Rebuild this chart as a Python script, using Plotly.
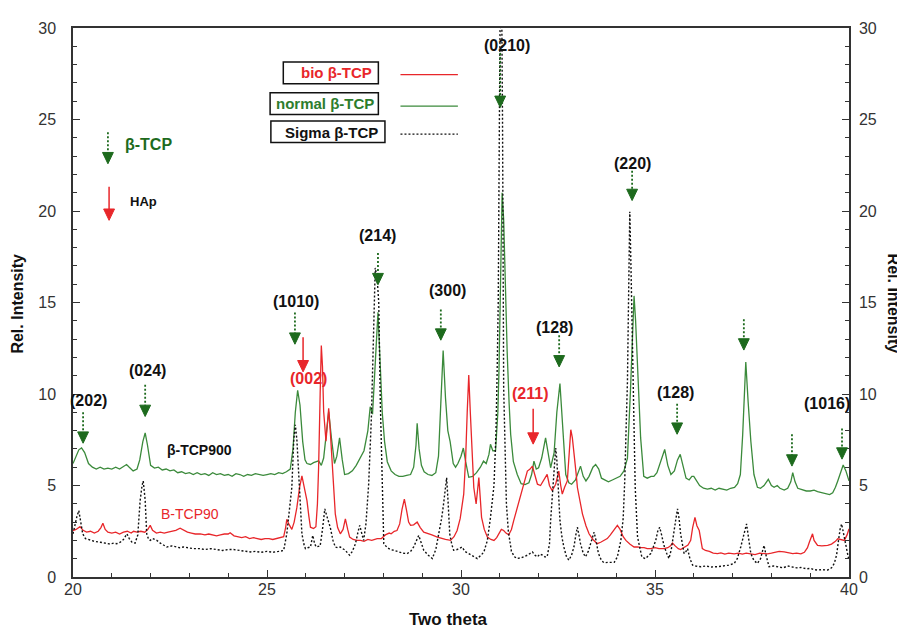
import plotly.graph_objects as go

# ---------------- data ----------------
normal_x = [20.00,20.08,20.15,20.22,20.30,20.40,20.50,20.60,20.70,20.80,20.90,21.00,21.10,21.20,21.30,21.38,21.45,21.55,21.65,21.72,21.80,21.86,21.92,22.00,22.10,22.20,22.30,22.40,22.50,22.60,22.70,22.80,22.90,23.00,23.10,23.20,23.30,23.40,23.50,23.60,23.70,23.80,23.90,24.00,24.10,24.20,24.30,24.40,24.50,24.60,24.70,24.80,24.90,25.00,25.10,25.20,25.30,25.40,25.50,25.60,25.67,25.73,25.79,25.85,25.92,25.98,26.03,26.12,26.20,26.33,26.40,26.46,26.52,26.59,26.66,26.74,26.80,26.87,26.94,27.00,27.10,27.20,27.30,27.40,27.50,27.60,27.66,27.72,27.78,27.86,27.92,27.97,28.03,28.10,28.20,28.30,28.40,28.50,28.60,28.70,28.78,28.84,28.87,28.92,28.98,29.05,29.15,29.25,29.35,29.42,29.48,29.54,29.60,29.66,29.72,29.80,29.86,29.92,30.00,30.06,30.12,30.20,30.30,30.40,30.50,30.58,30.65,30.72,30.76,30.82,30.89,30.95,30.98,31.02,31.06,31.10,31.15,31.19,31.24,31.28,31.35,31.45,31.55,31.65,31.75,31.82,31.88,31.94,32.00,32.08,32.18,32.25,32.31,32.40,32.47,32.55,32.62,32.70,32.78,32.85,32.95,33.03,33.08,33.15,33.22,33.30,33.40,33.47,33.55,33.62,33.70,33.80,33.90,34.00,34.10,34.20,34.29,34.37,34.46,34.50,34.54,34.63,34.71,34.80,34.90,34.97,35.05,35.15,35.25,35.33,35.41,35.50,35.58,35.65,35.72,35.80,35.88,35.95,36.00,36.08,36.15,36.25,36.35,36.45,36.55,36.65,36.75,36.85,36.95,37.05,37.13,37.20,37.26,37.32,37.34,37.40,37.47,37.55,37.64,37.72,37.81,37.92,38.00,38.07,38.15,38.22,38.33,38.42,38.50,38.55,38.61,38.68,38.80,38.90,39.00,39.10,39.19,39.30,39.40,39.50,39.58,39.65,39.71,39.78,39.85,39.92,40.00]
normal_y = [6.2,6.6,6.95,7.05,6.8,6.2,6.0,5.9,6.0,5.9,5.95,5.9,6.0,5.9,6.05,6.15,6.0,5.8,5.9,6.4,7.4,7.87,7.2,6.1,5.95,6.0,5.85,5.9,5.8,5.85,5.7,5.75,5.65,5.7,5.6,5.7,5.6,5.65,5.55,5.7,5.6,5.65,5.55,5.6,5.5,5.65,5.6,5.5,5.6,5.55,5.65,5.6,5.55,5.6,5.65,5.6,5.7,5.65,5.75,5.9,7.0,9.0,10.2,9.4,7.4,6.4,6.2,6.15,6.25,6.35,6.1,6.5,7.8,9.04,7.6,6.2,6.6,7.6,6.4,5.6,5.65,5.8,6.1,6.5,6.9,8.0,9.3,8.9,11.0,14.46,11.5,9.0,7.4,6.3,5.8,5.6,5.5,5.5,5.55,5.6,6.0,7.2,8.4,7.0,6.1,5.75,5.6,5.55,5.7,6.6,9.5,12.38,9.8,8.0,7.4,6.2,6.0,6.2,6.6,7.05,6.3,5.45,5.5,5.7,6.0,6.33,6.2,6.7,7.25,6.9,6.9,9.0,11.4,17.0,21.0,19.5,15.0,12.3,9.5,7.8,6.3,5.6,5.1,5.05,5.15,5.6,6.33,5.9,5.97,6.5,7.6,6.6,5.97,6.8,9.0,10.57,8.5,5.6,5.15,5.07,5.3,5.8,6.06,5.5,5.25,5.5,6.0,6.15,5.9,5.4,5.3,5.2,5.3,5.4,5.5,5.8,6.5,10.3,15.36,14.0,12.1,7.6,5.5,5.4,5.5,5.5,5.7,6.3,6.97,6.1,5.6,5.8,6.4,6.7,6.1,5.4,5.3,5.5,5.5,5.2,5.0,4.85,4.8,4.85,4.75,4.85,4.8,4.75,4.85,4.9,5.1,5.6,7.78,11.0,11.75,9.58,7.42,5.6,4.9,4.85,5.0,5.34,5.0,4.9,5.0,4.85,4.75,4.85,5.2,5.7,5.2,4.85,4.75,4.7,4.7,4.75,4.67,4.6,4.55,4.5,4.6,4.9,5.25,5.7,6.12,5.8,5.25]

bio_x = [20.00,20.08,20.18,20.26,20.35,20.45,20.55,20.65,20.72,20.77,20.83,20.90,21.00,21.10,21.20,21.30,21.40,21.50,21.56,21.65,21.75,21.85,21.93,21.99,22.05,22.15,22.25,22.35,22.45,22.55,22.65,22.76,22.85,22.95,23.05,23.15,23.28,23.40,23.50,23.60,23.70,23.80,23.90,24.00,24.05,24.15,24.25,24.35,24.45,24.55,24.65,24.75,24.85,24.95,25.05,25.15,25.25,25.35,25.43,25.48,25.51,25.56,25.64,25.70,25.77,25.84,25.90,25.96,26.03,26.08,26.12,26.20,26.26,26.30,26.33,26.37,26.40,26.43,26.46,26.52,26.56,26.59,26.63,26.68,26.72,26.76,26.82,26.89,26.96,27.02,27.08,27.13,27.22,27.32,27.41,27.50,27.60,27.70,27.84,27.95,28.05,28.15,28.20,28.28,28.35,28.42,28.48,28.54,28.60,28.65,28.70,28.78,28.87,28.95,29.04,29.15,29.25,29.39,29.50,29.60,29.73,29.82,29.90,29.98,30.07,30.12,30.16,30.20,30.24,30.28,30.33,30.39,30.42,30.46,30.50,30.53,30.60,30.68,30.77,30.85,30.92,30.98,31.04,31.10,31.16,31.23,31.30,31.36,31.45,31.54,31.62,31.71,31.78,31.84,31.90,31.97,32.05,32.14,32.22,32.28,32.35,32.44,32.52,32.57,32.61,32.67,32.74,32.79,32.83,32.87,32.91,32.96,33.00,33.07,33.13,33.22,33.30,33.40,33.51,33.60,33.70,33.77,33.85,33.95,34.03,34.10,34.18,34.25,34.35,34.46,34.55,34.65,34.72,34.80,34.89,35.00,35.10,35.23,35.33,35.40,35.45,35.52,35.60,35.66,35.75,35.85,35.92,35.97,36.03,36.08,36.14,36.18,36.22,36.30,36.40,36.50,36.61,36.70,36.80,36.90,37.04,37.15,37.25,37.35,37.47,37.58,37.70,37.80,37.90,38.00,38.10,38.20,38.33,38.45,38.55,38.65,38.76,38.85,38.93,38.98,39.03,39.06,39.10,39.14,39.19,39.30,39.45,39.55,39.65,39.71,39.80,39.88,39.95,40.00]
bio_y = [2.54,2.6,2.75,2.55,2.45,2.5,2.4,2.5,2.7,2.94,2.6,2.45,2.4,2.45,2.35,2.45,2.5,2.4,2.5,2.45,2.5,2.45,2.6,2.82,2.55,2.4,2.45,2.4,2.45,2.5,2.55,2.67,2.55,2.45,2.4,2.35,2.36,2.3,2.35,2.3,2.25,2.3,2.35,2.35,2.42,2.25,2.2,2.15,2.2,2.1,2.15,2.1,2.05,2.1,2.1,2.05,2.1,2.15,2.2,2.7,3.15,2.9,2.6,3.0,3.8,4.9,5.52,4.9,4.17,3.3,2.72,2.65,2.75,4.0,5.97,10.0,12.65,11.5,9.04,7.42,8.5,9.22,8.0,6.33,4.8,3.45,2.7,2.36,2.6,3.18,2.6,2.18,2.05,2.0,2.0,1.95,2.05,2.0,2.1,2.1,2.3,2.4,2.36,2.5,2.54,2.9,3.7,4.26,3.6,3.0,2.82,2.85,3.0,2.7,2.45,2.35,2.3,2.18,2.1,2.05,2.0,2.2,2.54,3.2,4.53,6.5,9.0,11.03,9.0,6.8,4.89,3.99,4.6,5.43,4.2,3.26,2.6,2.18,2.05,2.0,2.15,2.36,2.6,2.54,2.4,2.3,2.6,3.09,3.8,4.53,5.2,5.79,5.9,6.06,5.6,5.07,5.0,5.3,5.61,5.0,4.71,5.07,5.79,5.0,4.53,4.9,5.25,6.8,8.05,7.6,6.88,5.8,4.89,4.0,3.45,2.8,2.36,2.05,1.82,1.9,2.0,2.1,2.3,2.6,2.82,2.6,2.2,2.0,1.8,1.64,1.65,1.6,1.6,1.55,1.55,1.6,1.55,1.55,1.6,1.7,1.86,1.7,1.55,1.5,1.6,1.75,2.0,2.7,3.26,2.8,2.54,2.0,1.55,1.45,1.4,1.3,1.28,1.32,1.25,1.3,1.26,1.3,1.25,1.3,1.28,1.22,1.3,1.28,1.26,1.3,1.35,1.4,1.37,1.3,1.28,1.3,1.26,1.35,1.6,1.91,2.25,2.36,2.0,1.85,1.73,1.7,1.73,1.8,1.95,2.09,2.05,2.0,2.3,2.63]

sigma_x = [20.00,20.05,20.10,20.15,20.20,20.25,20.32,20.44,20.55,20.70,20.85,20.95,21.05,21.13,21.22,21.30,21.39,21.45,21.52,21.60,21.67,21.73,21.78,21.81,21.86,21.90,21.95,21.99,22.05,22.10,22.16,22.25,22.35,22.42,22.55,22.65,22.75,22.85,22.95,23.10,23.28,23.40,23.55,23.70,23.85,24.00,24.14,24.30,24.45,24.57,24.70,24.85,25.00,25.15,25.30,25.43,25.51,25.58,25.64,25.69,25.73,25.77,25.81,25.86,25.90,25.95,25.99,26.05,26.12,26.18,26.23,26.27,26.37,26.43,26.49,26.56,26.63,26.70,26.76,26.82,26.89,26.95,27.02,27.08,27.13,27.20,27.28,27.35,27.39,27.44,27.49,27.55,27.62,27.69,27.75,27.79,27.84,27.88,27.92,27.97,28.01,28.10,28.18,28.27,28.40,28.50,28.61,28.70,28.78,28.85,28.91,28.97,29.04,29.15,29.26,29.35,29.43,29.50,29.54,29.60,29.63,29.67,29.71,29.76,29.81,29.90,29.97,30.03,30.10,30.20,30.30,30.42,30.52,30.59,30.68,30.76,30.85,30.90,30.93,30.96,30.99,31.01,31.05,31.07,31.10,31.14,31.17,31.22,31.26,31.30,31.38,31.45,31.55,31.62,31.72,31.84,31.90,31.97,32.03,32.10,32.16,32.22,32.28,32.31,32.36,32.39,32.44,32.47,32.50,32.55,32.60,32.65,32.72,32.78,32.85,32.91,32.96,33.00,33.04,33.08,33.15,33.21,33.28,33.34,33.40,33.43,33.48,33.54,33.62,33.69,33.80,33.95,34.03,34.12,34.18,34.22,34.26,34.29,34.31,34.35,34.38,34.40,34.44,34.47,34.49,34.55,34.60,34.66,34.75,34.89,34.95,35.02,35.07,35.12,35.17,35.23,35.30,35.36,35.42,35.49,35.54,35.58,35.62,35.66,35.71,35.75,35.80,35.84,35.90,35.97,36.05,36.18,36.30,36.45,36.61,36.75,36.90,37.04,37.12,37.21,37.28,37.32,37.36,37.40,37.47,37.55,37.64,37.72,37.78,37.81,37.86,37.94,38.05,38.16,38.30,38.42,38.55,38.65,38.76,38.90,39.02,39.10,39.19,39.30,39.45,39.55,39.62,39.68,39.73,39.77,39.81,39.86,39.92,39.97,40.00]
sigma_y = [2.36,2.9,3.3,3.63,3.0,2.36,2.1,2.0,1.95,1.9,1.85,1.8,1.85,1.82,1.9,2.05,2.36,2.1,1.9,1.85,2.3,4.17,5.0,5.25,4.2,2.36,2.05,2.0,2.1,2.05,2.0,1.85,1.75,1.64,1.7,1.65,1.6,1.64,1.6,1.55,1.55,1.5,1.55,1.5,1.45,1.5,1.5,1.45,1.4,1.37,1.4,1.35,1.4,1.35,1.4,1.45,2.36,3.6,4.89,7.5,8.32,7.5,5.97,3.8,2.36,1.8,1.55,1.6,1.64,2.27,1.8,1.64,1.7,2.6,3.72,3.2,2.72,2.0,1.64,1.6,1.64,1.55,1.46,1.3,1.19,1.4,1.82,2.5,2.82,2.4,2.0,2.9,5.07,8.68,14.46,16.89,16.3,15.0,9.58,4.17,1.82,1.6,1.5,1.46,1.35,1.3,1.28,1.4,1.64,2.0,2.27,1.9,1.46,1.2,1.01,1.5,2.36,3.2,3.8,5.0,5.43,4.0,2.36,1.8,1.46,1.5,1.6,1.64,1.4,1.28,1.15,1.01,1.2,1.37,2.0,3.26,5.0,7.78,11.0,15.0,25.0,31.0,31.0,25.0,10.3,6.0,4.0,2.5,2.0,1.4,1.1,1.01,1.05,1.1,1.2,1.37,1.2,1.1,1.25,1.2,1.1,1.1,1.8,3.09,4.8,5.79,7.05,6.4,5.25,3.09,2.2,1.64,1.1,0.92,1.2,1.64,2.3,2.72,2.3,1.82,1.3,1.1,1.4,1.82,2.3,2.45,2.0,1.3,0.9,0.78,0.8,0.8,1.1,2.0,3.2,5.25,8.5,10.67,13.9,19.96,17.0,14.8,10.3,6.5,4.89,2.18,1.6,1.1,1.0,1.28,1.6,2.0,2.5,2.72,2.3,1.73,1.3,1.01,1.5,2.36,3.2,3.72,3.2,2.36,1.7,1.28,1.4,1.55,1.0,0.65,0.6,0.56,0.6,0.55,0.56,0.6,0.65,0.74,1.0,1.64,2.3,2.7,2.9,2.3,1.28,0.9,0.74,1.0,1.5,1.73,1.2,0.56,0.6,0.55,0.5,0.6,0.56,0.5,0.52,0.45,0.47,0.4,0.38,0.4,0.38,0.5,0.74,1.2,2.0,2.6,2.9,2.3,1.64,1.2,0.92]

series_names = ["bio β-TCP", "normal β-TCP", "Sigma β-TCP"]

# peak markers: (2theta, arrow top, arrow tip, kind)
arrow_x = [20.26, 21.86, 25.72, 25.93, 27.86, 29.48, 31.01, 31.86, 32.53, 34.41, 35.57, 37.29, 38.53, 39.82, 20.90, 20.93]
arrow_top = [9.0, 10.51, 14.46, 13.10, 17.70, 14.62, 28.64, 9.20, 13.21, 22.20, 9.47, 14.08, 7.80, 8.12, 24.31, 21.33]
arrow_tip = [7.31, 8.77, 12.72, 11.21, 15.97, 12.94, 25.66, 7.26, 11.48, 20.57, 7.80, 12.40, 6.06, 6.44, 22.58, 19.49]
arrow_kind = ["b", "b", "b", "h", "b", "b", "b", "h", "b", "b", "b", "b", "b", "b", "b", "h"]

label_text = ["(202)", "(024)", "(1010)", "(002)", "(214)", "(300)", "(0210)", "(211)", "(128)", "(220)", "(128)", "(1016)"]
label_x = [20.41, 21.91, 25.75, 26.06, 27.86, 29.64, 31.19, 31.78, 32.42, 34.41, 35.54, 39.43]
label_y = [9.64, 11.26, 15.05, 10.83, 18.68, 15.65, 29.07, 10.02, 13.64, 22.58, 10.07, 9.47]
label_kind = ["b", "b", "b", "h", "b", "b", "b", "h", "b", "b", "b", "b"]

# ---------------- styling ----------------
RED = "#e8262a"
GREEN = "#3b8a3b"
DKGREEN = "#1d6a1d"
BLACK = "#111111"
FONT = "Liberation Sans, Arial, sans-serif"

fig = go.Figure()
fig.add_trace(go.Scatter(x=normal_x, y=normal_y, mode="lines", name=series_names[1],
                         line=dict(color=GREEN, width=1.3), showlegend=False))
fig.add_trace(go.Scatter(x=bio_x, y=bio_y, mode="lines", name=series_names[0],
                         line=dict(color=RED, width=1.3), showlegend=False))
fig.add_trace(go.Scatter(x=sigma_x, y=sigma_y, mode="lines", name=series_names[2], yaxis="y2",
                         line=dict(color=BLACK, width=1.4, dash="2px,2px"), showlegend=False))

shapes = []
annotations = []
hw = 0.14   # half width of arrow head (deg)
hh = 0.62   # head height (intensity units)
for x, yt, yb, k in zip(arrow_x, arrow_top, arrow_tip, arrow_kind):
    col = DKGREEN if k == "b" else RED
    shapes.append(dict(type="line", x0=x, x1=x, y0=yt, y1=yb + hh * 0.8, xref="x", yref="y",
                       line=dict(color=col, width=1.8 if k == "b" else 1.5, dash="2px,2px" if k == "b" else "solid")))
    shapes.append(dict(type="path", xref="x", yref="y",
                       path=f"M {x-hw},{yb+hh} L {x+hw},{yb+hh} L {x},{yb} Z",
                       fillcolor=col, line=dict(color=col, width=1)))

for t, x, y, k in zip(label_text, label_x, label_y, label_kind):
    annotations.append(dict(x=x, y=y, xref="x", yref="y", text=f"<b>{t}</b>", showarrow=False,
                            xanchor="center", yanchor="middle",
                            font=dict(family=FONT, size=16, color=RED if k == "h" else BLACK)))

# key at upper left
annotations.append(dict(x=21.29, y=23.66, xref="x", yref="y", text="<b>β-TCP</b>", showarrow=False,
                        xanchor="left", yanchor="middle", font=dict(family=FONT, size=16, color=DKGREEN)))
annotations.append(dict(x=21.42, y=20.52, xref="x", yref="y", text="<b>HAp</b>", showarrow=False,
                        xanchor="left", yanchor="middle", font=dict(family=FONT, size=13, color=BLACK)))
# series tags
annotations.append(dict(x=22.37, y=6.93, xref="x", yref="y", text="<b>β-TCP900</b>", showarrow=False,
                        xanchor="left", yanchor="middle", font=dict(family=FONT, size=14, color=BLACK)))
annotations.append(dict(x=22.22, y=3.47, xref="x", yref="y", text="B-TCP90", showarrow=False,
                        xanchor="left", yanchor="middle", font=dict(family=FONT, size=14, color=RED)))

# boxed legend
box_x0 = [25.42, 25.08, 25.10]
box_x1 = [27.87, 27.87, 28.04]
box_y0 = [26.95, 25.28, 23.75]
box_y1 = [28.14, 26.46, 24.92]
txt_x = [27.76, 27.80, 27.91]
txt_y = [27.56, 25.88, 24.31]
txt_col = [RED, "#2d7d2d", BLACK]
line_styles = [dict(color=RED, width=1.3), dict(color=GREEN, width=1.3), dict(color=BLACK, width=1.3, dash="2px,2px")]
line_y = [27.45, 25.73, 24.2]
for i in range(3):
    shapes.append(dict(type="rect", xref="x", yref="y", x0=box_x0[i], x1=box_x1[i], y0=box_y0[i], y1=box_y1[i],
                       line=dict(color=BLACK, width=1.5), fillcolor="white"))
    annotations.append(dict(x=txt_x[i], y=txt_y[i], xref="x", yref="y", text=f"<b>{series_names[i]}</b>",
                            showarrow=False, xanchor="right", yanchor="middle",
                            font=dict(family=FONT, size=15, color=txt_col[i])))
    shapes.append(dict(type="line", xref="x", yref="y", x0=28.44, x1=29.92, y0=line_y[i], y1=line_y[i],
                       line=line_styles[i]))

# axis titles
annotations.append(dict(x=-0.0709, y=0.498, xref="paper", yref="paper", text="<b>Rel. Intensity</b>", textangle=-90,
                        xanchor="center", yanchor="middle",
                        showarrow=False, font=dict(family=FONT, size=16, color=BLACK)))
annotations.append(dict(x=1.0567, y=0.498, xref="paper", yref="paper", text="<b>Rel. Intensity</b>", textangle=90,
                        xanchor="center", yanchor="middle",
                        showarrow=False, font=dict(family=FONT, size=16, color=BLACK)))
annotations.append(dict(x=0.4845, y=-0.0776, xref="paper", yref="paper", text="<b>Two theta</b>",
                        xanchor="center", yanchor="middle",
                        showarrow=False, font=dict(family=FONT, size=17, color=BLACK)))

axis_common = dict(showline=True, linecolor="#333", linewidth=1.5, ticks="inside", ticklen=7, tickwidth=1.3,
                   tickcolor="#333", showgrid=False, zeroline=False,
                   tickfont=dict(family=FONT, size=16, color="#333"))

fig.update_layout(
    width=897, height=622,
    margin=dict(l=65, r=56, t=15, b=53),
    paper_bgcolor="white", plot_bgcolor="white",
    xaxis=dict(range=[20, 40], dtick=5, tick0=20, mirror=True, ticklabelstandoff=-3,
               minor=dict(ticks="inside", ticklen=4, dtick=1, tickcolor="#333"), **axis_common),
    yaxis=dict(range=[0, 30], dtick=5, tick0=0, ticklabelstandoff=12,
               minor=dict(ticks="inside", ticklen=4, dtick=1, tickcolor="#333"), **axis_common),
    yaxis2=dict(range=[0, 30], dtick=5, tick0=0, overlaying="y", side="right", anchor="x", ticklabelstandoff=5,
                minor=dict(ticks="inside", ticklen=4, dtick=1, tickcolor="#333"), **axis_common),
    shapes=shapes, annotations=annotations,
)

fig.write_html("out.html")
